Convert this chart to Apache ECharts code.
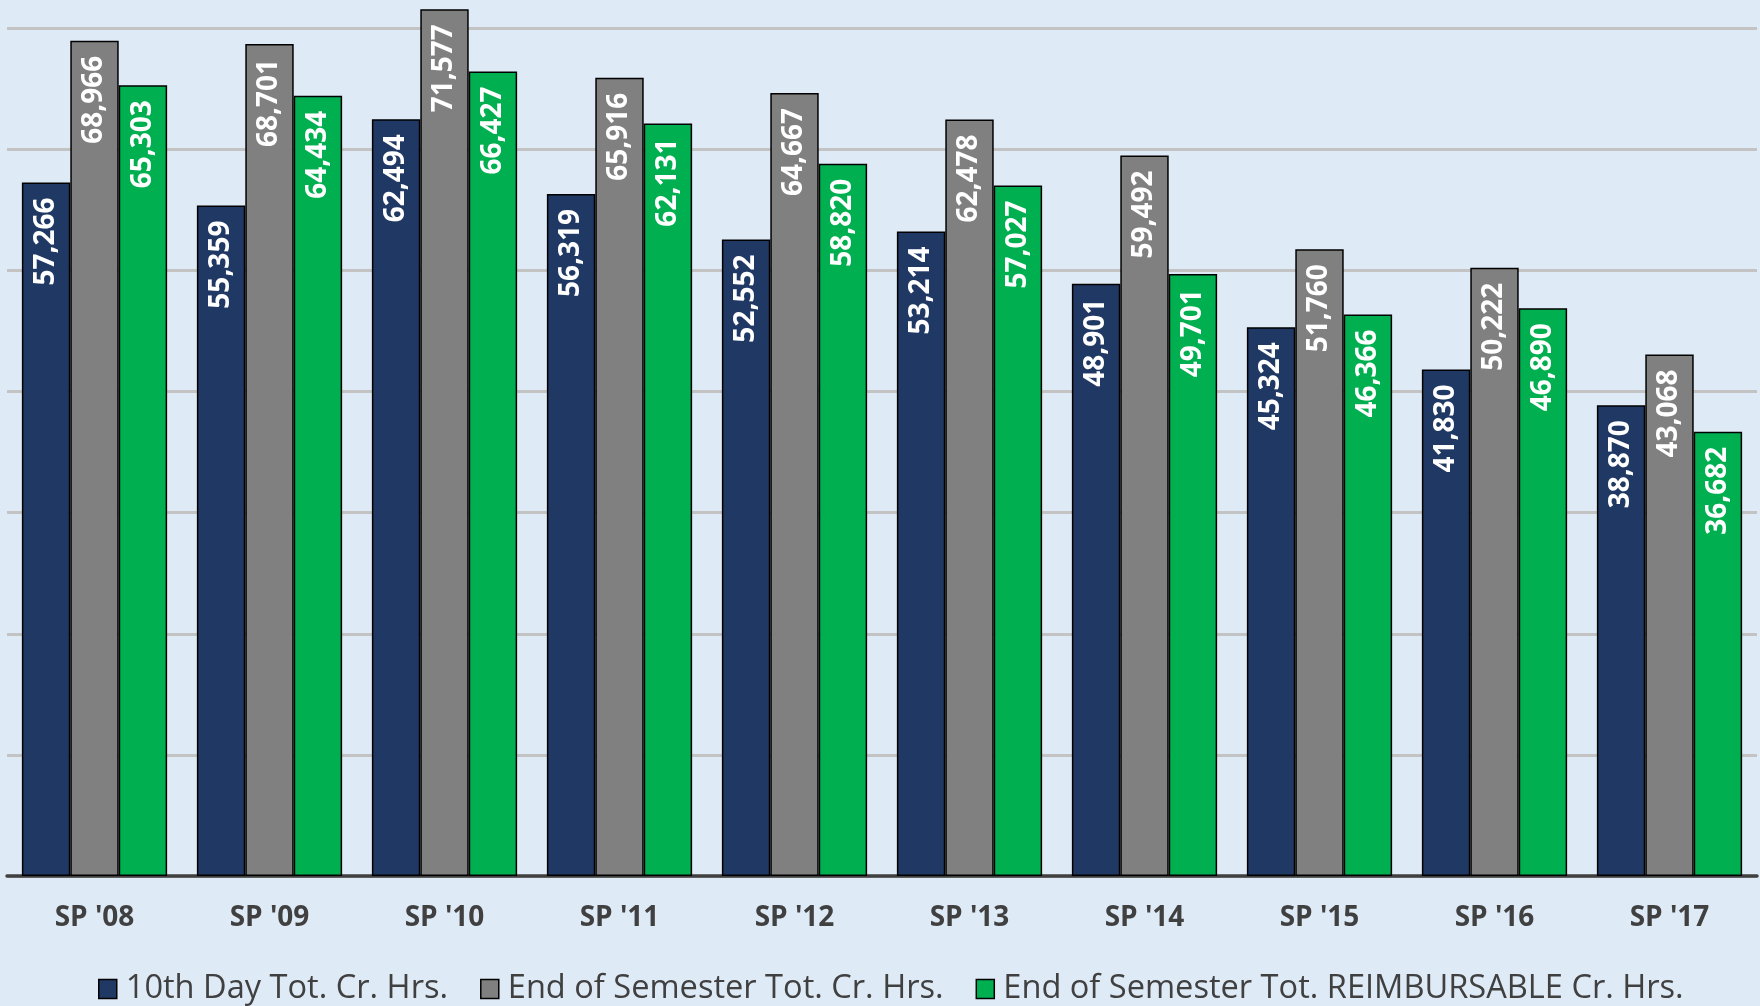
<!DOCTYPE html>
<html>
<head>
<meta charset="utf-8">
<script src="https://cdn.jsdelivr.net/npm/echarts@6/dist/echarts.min.js"></script>
<style>
  html, body { margin: 0; padding: 0; background: #deeaf6; }
  #chart { width: 1760px; height: 1006px; }
</style>
</head>
<body>
<div id="chart"></div>
<script>
const categories = ["SP '08", "SP '09", "SP '10", "SP '11", "SP '12", "SP '13", "SP '14", "SP '15", "SP '16", "SP '17"];
const tenthDay = [57266, 55359, 62494, 56319, 52552, 53214, 48901, 45324, 41830, 38870];
const endOfSemester = [68966, 68701, 71577, 65916, 64667, 62478, 59492, 51760, 50222, 43068];
const endOfSemesterReimb = [65303, 64434, 66427, 62131, 58820, 57027, 49701, 46366, 46890, 36682];
const seriesNames = ["10th Day Tot. Cr. Hrs.", "End of Semester Tot. Cr. Hrs.", "End of Semester Tot. REIMBURSABLE Cr. Hrs."];
const colors = ["#203864", "#808080", "#00b050"];

const chart = echarts.init(document.getElementById('chart'), null, { renderer: 'canvas' });

function fmt(v) { return Number(v).toLocaleString('en-US'); }

function makeSeries(name, data, color) {
  return {
    name: name,
    type: 'bar',
    data: data,
    barGap: '0%',
    barCategoryGap: '17%',
    itemStyle: { color: color, borderColor: '#000000', borderWidth: 1.5 },
    label: {
      show: true,
      position: 'insideTop',
      distance: 15,
      rotate: 90,
      align: 'right',
      verticalAlign: 'middle',
      color: '#ffffff',
      fontFamily: 'Open Sans',
      fontWeight: 'bold',
      fontSize: 28,
      formatter: p => fmt(p.value)
    },
    emphasis: { disabled: true }
  };
}

chart.setOption({
  backgroundColor: '#deeaf6',
  animation: false,
  grid: { left: 7, right: 3, top: -92.8, bottom: 130, containLabel: false, outerBoundsMode: 'none' },
  legend: {
    left: 98,
    top: 971,
    padding: 0,
    itemWidth: 18,
    itemHeight: 19,
    itemGap: 32,
    icon: 'rect',
    data: seriesNames,
    itemStyle: { borderColor: '#000000', borderWidth: 1.5 },
    textStyle: { fontFamily: 'Open Sans', fontSize: 32.6, color: '#404040', lineHeight: 36, padding: [0, 0, 0, 4] }
  },
  xAxis: {
    type: 'category',
    data: categories,
    axisLine: { show: true, lineStyle: { color: '#404040', width: 3.5 } },
    axisTick: { show: false },
    axisLabel: { margin: 28, fontFamily: 'Open Sans', fontWeight: 'bold', fontSize: 28, color: '#404040' }
  },
  yAxis: {
    type: 'value',
    min: 0,
    max: 80000,
    interval: 10000,
    axisLabel: { show: false },
    axisLine: { show: false },
    axisTick: { show: false },
    splitLine: { show: true, lineStyle: { color: '#c3c3c3', width: 3 } }
  },
  series: [
    makeSeries(seriesNames[0], tenthDay, colors[0]),
    makeSeries(seriesNames[1], endOfSemester, colors[1]),
    makeSeries(seriesNames[2], endOfSemesterReimb, colors[2])
  ]
});
</script>
</body>
</html>
